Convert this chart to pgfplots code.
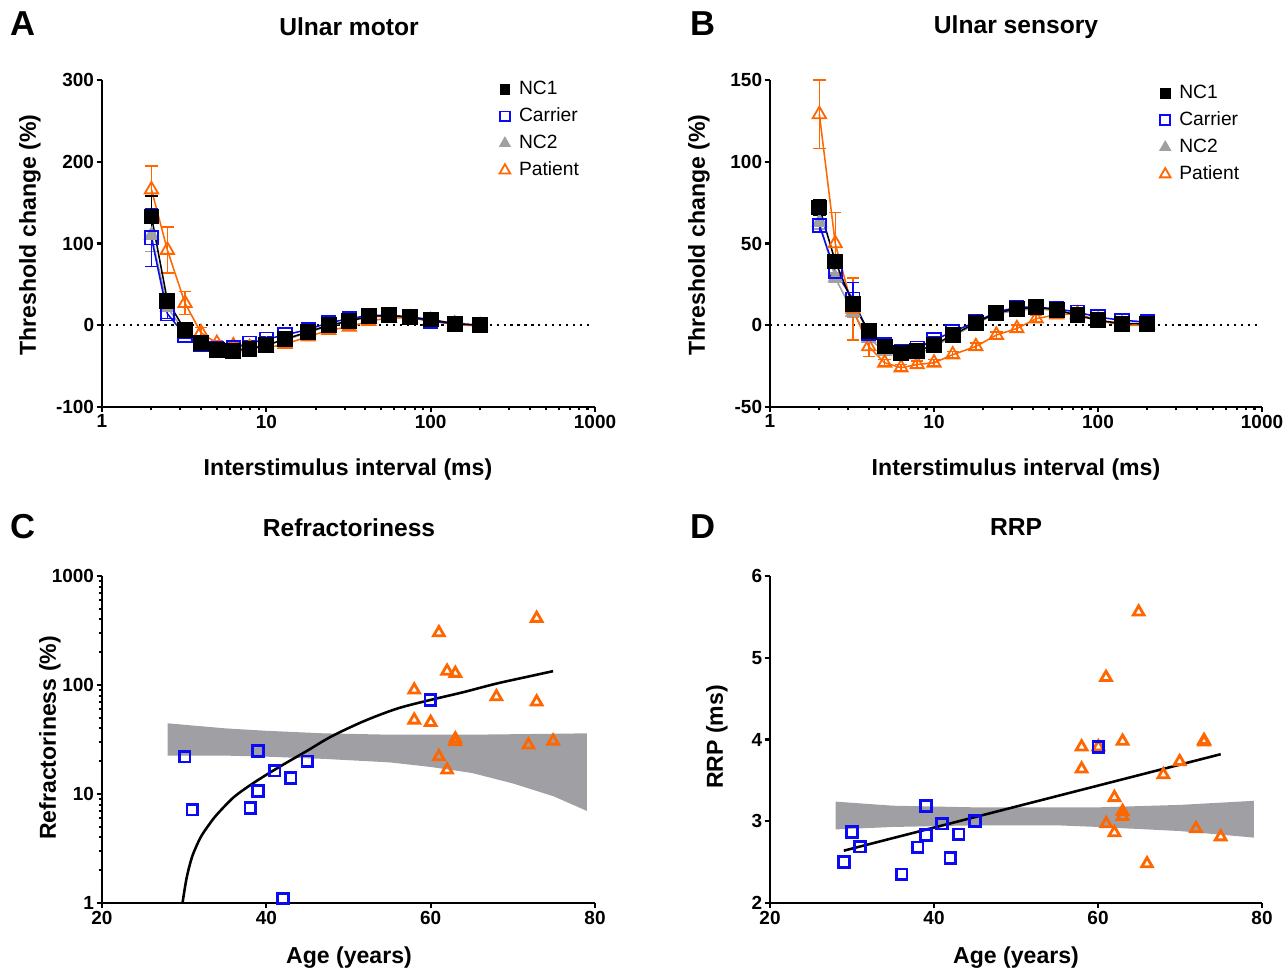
\documentclass[border=0pt]{standalone}
\usepackage{pgfplots}
\usepackage{pgfplotstable}
\pgfplotsset{compat=1.18}
\usepackage{fontspec}
\setmainfont{Liberation Sans}
\definecolor{myblue}{RGB}{10,10,245}
\definecolor{myorange}{RGB}{255,102,0}
\definecolor{mygray}{RGB}{160,160,160}
\definecolor{bandgray}{RGB}{160,160,164}

\pgfplotstableread{
isi nc1 nc1e car care nc2 nc2e pat pate
2    133 25 107 35 110 20 166 29
2.5  30  5  14  6   22  5   92  28
3.2  -6  4  -12 4   -9  4   27  14
4    -22 3  -24 3   -25 3   -9  6
5    -30 3  -28 3   -30 3   -22 3
6.3  -31 3  -27 3   -30 3   -25 3
7.9  -29 3  -22 3   -28 3   -27 3
10   -24.5 3 -17 3  -24 3   -28 3
13   -17 3  -12 3   -18 3   -23 3
18   -8  3  -5  3   -9  3   -14 3
24   0   3  3   3   -1  3   -6  3
32   5   3  8   3   5   3   -2  3
42   11  3  12  3   10  3   5   3
56   12  3  12  3   11  3   9   3
75   10  3  10  3   9   3   9   3
100  7   3  5   3   6   3   5   3
140  2   3  2   3   2   3   1   3
200  0   3  0   3   0   3   -1  3
}\dataA

\pgfplotstableread{
isi nc1 nc1e car care nc2 nc2e pat pate
2    72  5  61  4   63  4   129 21
2.5  39  3  33  3   29  3   50  19
3.2  13  3  16  10  8   3   10  19
4    -3.5 2 -5  2   -8  2   -13 6
5    -13 2  -12 2   -16 2   -23 2
6.3  -17 2  -16 2   -19 2   -26 2
7.9  -16 2  -14 2   -18 2   -24 2
10   -12 2  -9  2   -13 2   -23 2
13   -6  2  -4  2   -7  2   -18 2
18   1.5 2  2   2   1   2   -13 2
24   7.5 2  8   2   7   2   -6  2
32   10  2  11  2   9   2   -2  2
42   11  2  11  2   10  2   4   2
56   9.5 2  10  2   9   2   6.5 2
75   6   2  8   2   6   2   7   2
100  3   2  5   2   3   2   3   2
140  1   2  3   2   1   2   0   2
200  1   2  2   2   1   2   0   2
}\dataB

\pgfplotsset{
  panel/.style={
    scale only axis,
    anchor=south west,
    axis lines=left,
    axis line style={-, line width=0.8pt},
    tick align=outside,
    tick style={line width=0.8pt, black},
    major tick length=2.1pt,
    minor tick length=1.3pt,
    ticklabel style={font=\bfseries\fontsize{7.4}{9}\selectfont, inner sep=0.8pt},
    clip=false,
  },
  legstyle/.style={
    legend style={draw=none, fill=none, anchor=north west,
      font=\fontsize{7.5}{9}\selectfont, row sep=0.5pt, inner sep=0pt,
      nodes={inner sep=1.6pt}},
    legend cell align=left,
    legend image code/.code={\draw[##1] plot coordinates {(0.15cm,0cm)}; \path (0cm,0cm) (0.28cm,0cm);},
  },
  errb/.style={error bars/.cd, y dir=both, y explicit,
    error bar style={line width=0.6pt},
    error mark options={rotate=90, mark size=2.4pt, line width=0.6pt}},
}

\newcommand{\legendentries}{%
  \addlegendimage{only marks, mark=square*, black, mark size=1.9pt}
  \addlegendentry{NC1}
  \addlegendimage{only marks, mark=square, myblue, mark size=1.9pt, mark options={line width=0.7pt}}
  \addlegendentry{Carrier}
  \addlegendimage{only marks, mark=triangle*, mygray, mark size=2.4pt}
  \addlegendentry{NC2}
  \addlegendimage{only marks, mark=triangle, myorange, mark size=2.4pt, mark options={line width=0.7pt}}
  \addlegendentry{Patient}
}

\newcommand{\seriesplots}[1]{%
  \addplot[forget plot, black, dash pattern=on 0.9pt off 1.8pt, line width=0.9pt] coordinates {(1,0) (950,0)};
  \addplot[forget plot, mygray, line width=0.6pt, mark=triangle*, mark size=3pt, errb] table[x=isi, y=nc2, y error=nc2e] {#1};
  \addplot[forget plot, myorange, line width=0.6pt, mark=triangle, mark size=3pt, mark options={line width=0.7pt, fill=white}, errb] table[x=isi, y=pat, y error=pate] {#1};
  \addplot[forget plot, myblue, line width=0.6pt, mark=square, mark size=2.6pt, mark options={line width=0.7pt}, errb] table[x=isi, y=car, y error=care] {#1};
  \addplot[forget plot, black, line width=0.6pt, mark=square*, mark size=2.8pt, errb] table[x=isi, y=nc1, y error=nc1e] {#1};
}

\begin{document}
\begin{tikzpicture}[x=0.39pt, y=0.39pt]
\path[use as bounding box] (0,0) rectangle (1288,972);

% ---------------- Panel A ----------------
\begin{axis}[panel, legstyle, at={(39.78pt,220.35pt)}, width=192.27pt, height=127.53pt,
  xmode=log, xmin=1, xmax=1000, ymin=-100, ymax=300,
  xtick={1,10,100,1000}, xticklabels={1,10,100,1000},
  minor xtick={2,3,4,5,6,7,8,9,20,30,40,50,60,70,80,90,200,300,400,500,600,700,800,900},
  ytick={-100,0,100,200,300}, yticklabels={-100,0,100,200,300},
  legend style={at={(0.793,1.012)}}]
\legendentries
\seriesplots{\dataA}
\end{axis}

% ---------------- Panel B ----------------
\begin{axis}[panel, legstyle, at={(300.3pt,220.35pt)}, width=191.88pt, height=127.53pt,
  xmode=log, xmin=1, xmax=1000, ymin=-50, ymax=150,
  xtick={1,10,100,1000}, xticklabels={1,10,100,1000},
  minor xtick={2,3,4,5,6,7,8,9,20,30,40,50,60,70,80,90,200,300,400,500,600,700,800,900},
  ytick={-50,0,50,100,150}, yticklabels={-50,0,50,100,150},
  legend style={at={(0.779,1.0)}}]
\legendentries
\seriesplots{\dataB}
\end{axis}

% ---------------- Panel C ----------------
\begin{axis}[panel, at={(39.78pt,26.91pt)}, width=192.27pt, height=127.53pt,
  ymode=log, xmin=20, xmax=80, ymin=1, ymax=1000,
  xtick={20,40,60,80}, xticklabels={20,40,60,80},
  ytick={1,10,100,1000}, yticklabels={1,10,100,1000},
  minor ytick={2,3,4,5,6,7,8,9,20,30,40,50,60,70,80,90,200,300,400,500,600,700,800,900}]
\addplot[fill=bandgray, draw=none] coordinates {
 (28,44.5) (35,40) (40,38) (47,36) (55,35) (65,35) (79,36)
 (79,7) (75,9.5) (70,12.5) (65,15.6) (60,17.7) (55,19.5) (47,21) (40,22) (35,22.5) (28,22.5)} -- cycle;
\addplot[black, line width=1pt, smooth] coordinates {
 (29.8,1.0) (30.3,1.7) (31,2.7) (32,4.0) (33,5.2) (34,6.5) (36,9.3) (38,12) (40,15)
 (42,18.5) (45,25) (48,34) (52,47) (56,61) (60,73) (64,86) (68,103) (72,120) (74.9,134)};
\addplot[only marks, myorange, mark=triangle, mark size=2.4pt, mark options={line width=1.1pt}] coordinates {
 (61,302) (72.9,409) (62,134) (63,128) (58,90) (68,78) (72.9,70) (58,47.7) (60,45.4)
 (63,32) (63,30.2) (71.9,28.2) (74.9,30.6) (61,22) (62,16.6)};
\addplot[only marks, myblue, mark=square, mark size=2.1pt, mark options={line width=1.1pt}] coordinates {
 (30.06,22) (31,7.2) (39,24.8) (38.05,7.4) (39,10.6) (41,16.4) (42.96,14.1) (45,19.9) (42,1.1) (59.96,72.8)};
\end{axis}

% ---------------- Panel D ----------------
\begin{axis}[panel, at={(300.3pt,26.91pt)}, width=191.88pt, height=127.53pt,
  xmin=20, xmax=80, ymin=2, ymax=6,
  xtick={20,40,60,80}, xticklabels={20,40,60,80},
  ytick={2,3,4,5,6}, yticklabels={2,3,4,5,6}]
\addplot[fill=bandgray, draw=none] coordinates {
 (28,3.24) (35,3.19) (45,3.17) (60,3.17) (70,3.20) (79,3.25)
 (79,2.80) (70,2.88) (60,2.93) (55,2.95) (45,2.95) (35,2.93) (28,2.90)} -- cycle;
\addplot[black, line width=1pt] coordinates {(29,2.64) (74.96,3.82)};
\addplot[only marks, myorange, mark=triangle, mark size=2.4pt, mark options={line width=1.1pt}] coordinates {
 (64.96,5.56) (60.98,4.76) (58,3.91) (60.04,3.91) (63,3.98) (72.93,3.97) (72.93,3.99)
 (58,3.64) (69.96,3.73) (67.97,3.57) (62,3.29) (63,3.12) (63,3.06) (61,2.97) (62,2.86)
 (71.95,2.91) (74.96,2.81) (65.98,2.48)};
\addplot[only marks, myblue, mark=square, mark size=2.1pt, mark options={line width=1.1pt}] coordinates {
 (29,2.50) (30,2.87) (31,2.69) (36.06,2.35) (38,2.68) (39,2.83) (39,3.19) (41,2.97)
 (42,2.55) (43,2.84) (45,3.00) (60.04,3.91)};
\end{axis}

% ---------------- Text ----------------
\tikzset{ttl/.style={font=\bfseries\fontsize{9.6}{11}\selectfont},
         lab/.style={font=\bfseries\fontsize{9}{11}\selectfont},
         let/.style={font=\bfseries\fontsize{13.5}{15}\selectfont}}
\node[let] at (23,948) {A};
\node[let] at (703,948) {B};
\node[let] at (23,445) {C};
\node[let] at (703,445) {D};
\node[ttl] at (349,945) {Ulnar motor};
\node[ttl] at (1016,945) {Ulnar sensory};
\node[ttl] at (349,444) {Refractoriness};
\node[ttl] at (1016,445) {RRP};
\node[lab] at (348,502) {Interstimulus interval (ms)};
\node[lab] at (1016,502) {Interstimulus interval (ms)};
\node[lab] at (349,14) {Age (years)};
\node[lab] at (1016,14) {Age (years)};
\node[lab, rotate=90] at (30,737) {Threshold change (\%)};
\node[lab, rotate=90] at (699,737) {Threshold change (\%)};
\node[lab, rotate=90] at (50,234) {Refractoriness (\%)};
\node[lab, rotate=90] at (717,235) {RRP (ms)};
\end{tikzpicture}
\end{document}
